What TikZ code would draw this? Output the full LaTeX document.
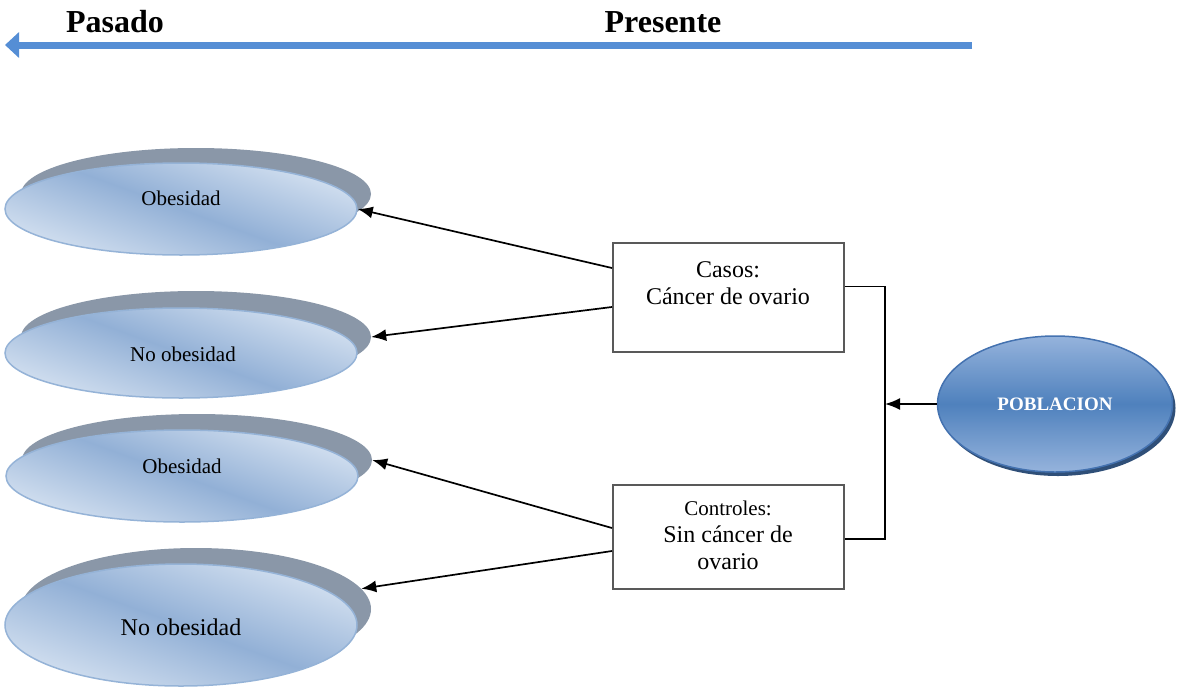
\documentclass[tikz,border=0pt]{standalone}
\usepackage{fontspec}
\setmainfont{Liberation Serif}
\usepackage{tikz}
\usetikzlibrary{shapes.geometric,arrows.meta,positioning,calc}
\definecolor{tlblue}{HTML}{558ED5}
\definecolor{ovedge}{HTML}{95B3D7}
\definecolor{ovdark}{HTML}{92B0D6}
\definecolor{ovlight}{HTML}{D3E0F0}
\definecolor{ovshade}{HTML}{8A97A8}
\definecolor{popmid}{HTML}{4F81BD}
\definecolor{poplight}{HTML}{95B3DC}
\definecolor{popedge}{HTML}{4472B0}
\definecolor{popshade}{HTML}{2F4F78}
\definecolor{boxedge}{HTML}{595959}
\tikzset{
  oval/.style   ={ellipse, draw=ovedge, line width=1.5pt, inner sep=0pt,
                  minimum width=352pt, minimum height=92pt,
                  top color=ovlight, bottom color=ovlight, middle color=ovdark,
                  shading angle=-20},
  ovshadow/.style={ellipse, fill=ovshade, inner sep=0pt,
                  minimum width=350pt, minimum height=92pt},
  ovtxt/.style  ={inner sep=0pt, font=\fontsize{21}{25}\selectfont},
  caja/.style   ={draw=boxedge, line width=2pt, minimum width=231pt, inner sep=0pt},
  cajatxt/.style={align=center, inner sep=0pt, font=\fontsize{24}{27}\selectfont},
  pob/.style    ={ellipse, draw=popedge, line width=1.5pt, inner sep=0pt,
                  minimum width=235pt, minimum height=136pt,
                  top color=poplight, bottom color=poplight, middle color=popmid,
                  text=white, font=\fontsize{19}{22}\selectfont\bfseries},
  titulo/.style ={inner sep=0pt, font=\fontsize{32}{36}\selectfont\bfseries},
  flecha/.style ={-{Latex[length=15pt,width=12pt]}, line width=1.7pt},
  linea/.style  ={line width=1.7pt},
}
\begin{document}
\begin{tikzpicture}[x=1pt,y=-1pt]
\useasboundingbox (0,0) rectangle (1182,688);

% ---- time axis -------------------------------------------------------
\coordinate (hoy) at (972,45);
\coordinate (antes) at (5,45);
\draw[line width=7pt, tlblue, -{Triangle[width=25pt,length=14pt]}] (hoy) -- (antes);
\node[titulo] (pasado) at (115,22) {Pasado};
\node[titulo] (presente) at (663,22) {Presente};

% ---- exposure ovals --------------------------------------------------
\node[ovshadow] (ob1s) at (196,194) {};
\node[oval] (ob1) at (181,209) {};
\node[ovtxt] (ob1t) at (181,198) {Obesidad};

\node[ovshadow] (no1s) at (196,337) {};
\node[oval, minimum height=90pt] (no1) at (181,353) {};
\node[ovtxt] (no1t) at (183,354) {No obesidad};

\node[ovshadow] (ob2s) at (197,460) {};
\node[oval] (ob2) at (182,476) {};
\node[ovtxt] (ob2t) at (182,466) {Obesidad};

\node[ovshadow, minimum height=122pt] (no2s) at (196,609) {};
\node[oval, minimum height=122pt] (no2) at (181,625) {};
\node[ovtxt, font=\fontsize{24}{28}\selectfont] (no2t) at (181,627) {No obesidad};

% ---- cases and controls ----------------------------------------------
\node[caja, minimum height=109pt] (casos) at (728.5,297.5) {};
\node[cajatxt] (casost) at (728,283.5) {Casos:\\C\'ancer de ovario};
\node[caja, minimum height=104pt] (ctrl) at (728.5,537) {};
\node[cajatxt] (ctrlt) at (728,535.5)
     {{\fontsize{21}{27}\selectfont Controles:}\\Sin c\'ancer de\\ovario};

% ---- population ------------------------------------------------------
\node[ellipse, fill=popshade, minimum width=235pt, minimum height=136pt]
     (pobs) at (1058,408) {};
\node[pob] (pob) at (1055,404) {POBLACION};
\coordinate (jn) at (885,404);

\draw[linea] ([yshift=11pt]casos.east) -| (jn) |- ([yshift=-2pt]ctrl.east);
\draw[flecha] (pob.west) -- (jn);

\draw[flecha] ([yshift=29.5pt]casos.west) -- (ob1.east);
\draw[flecha] ([yshift=-9.5pt]casos.west) -- (no1s.east);
\draw[flecha] ([yshift=9pt]ctrl.west) -- (ob2s.east);
\draw[flecha] ([yshift=-14pt]ctrl.west) -- (no2s.7);

\end{tikzpicture}
\end{document}
